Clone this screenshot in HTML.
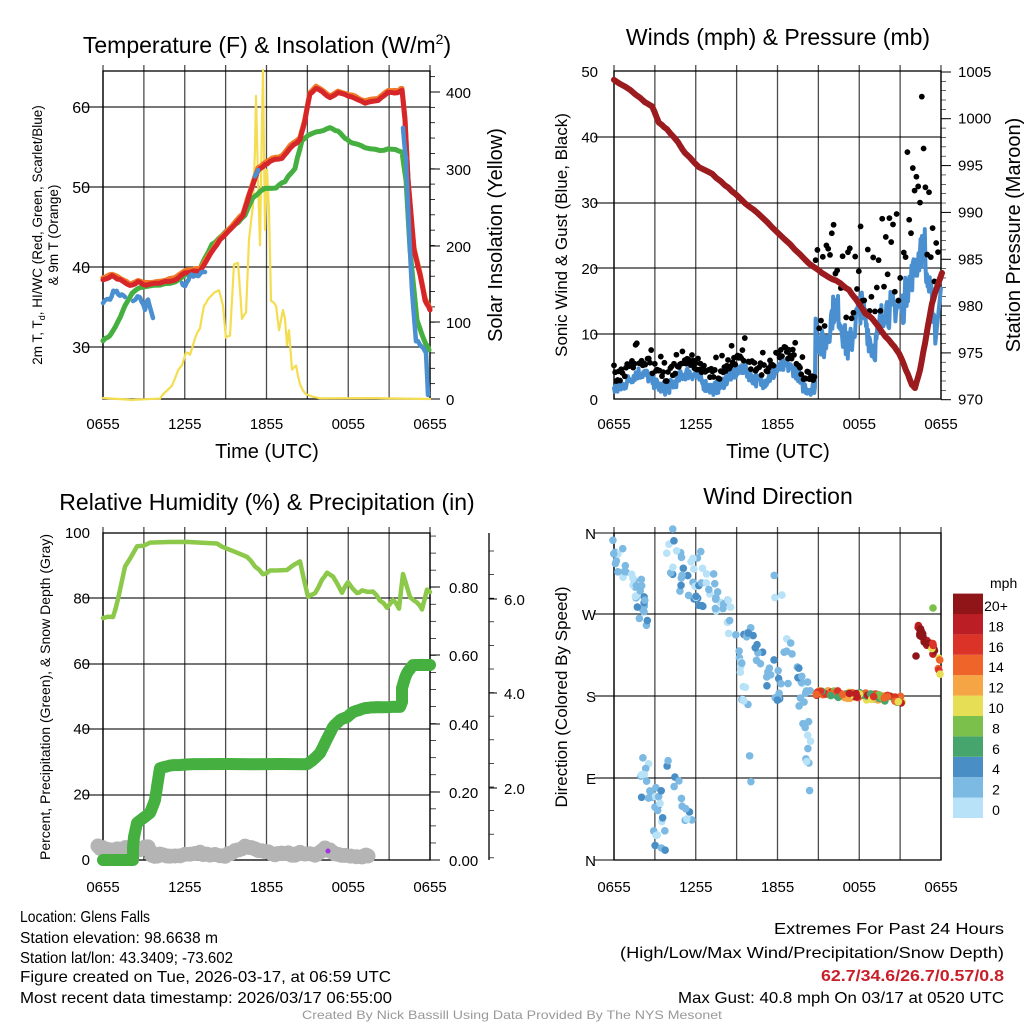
<!DOCTYPE html>
<html><head><meta charset="utf-8"><style>
html,body{margin:0;padding:0;background:#fff;}
svg{display:block;font-family:"Liberation Sans",Arial,sans-serif;}
</style></head><body>
<svg id="s" width="1024" height="1024" viewBox="0 0 1024 1024" xmlns="http://www.w3.org/2000/svg">
<rect width="1024" height="1024" fill="#fff"/>
<g id="g"></g>
<text x="267" y="53" font-size="23" text-anchor="middle">Temperature (F) &amp; Insolation (W/m<tspan dy="-9" font-size="14">2</tspan><tspan dy="9">)</tspan></text>
<text x="778" y="45" font-size="23" text-anchor="middle">Winds (mph) &amp; Pressure (mb)</text>
<text x="267" y="510" font-size="23" text-anchor="middle">Relative Humidity (%) &amp; Precipitation (in)</text>
<text x="778" y="504" font-size="23" text-anchor="middle">Wind Direction</text>
<text x="267" y="458" font-size="20" text-anchor="middle">Time (UTC)</text>
<text x="778" y="458" font-size="20" text-anchor="middle">Time (UTC)</text>
<text transform="translate(42,235) rotate(-90)" font-size="13.5" text-anchor="middle">2m T, T<tspan font-size="9" dy="3">d</tspan><tspan dy="-3">, HI/WC (Red, Green, Scarlet/Blue)</tspan></text>
<text transform="translate(58,235) rotate(-90)" font-size="13.5" text-anchor="middle">&amp; 9m T (Orange)</text>
<text transform="translate(502,235) rotate(-90)" font-size="20" text-anchor="middle">Solar Insolation (Yellow)</text>
<text transform="translate(567,235) rotate(-90)" font-size="17" text-anchor="middle">Sonic Wind &amp; Gust (Blue, Black)</text>
<text transform="translate(1020,235) rotate(-90)" font-size="20" text-anchor="middle">Station Pressure (Maroon)</text>
<text transform="translate(50,697) rotate(-90)" font-size="14" text-anchor="middle">Percent, Precipitation (Green), &amp; Snow Depth (Gray)</text>
<text transform="translate(567,697) rotate(-90)" font-size="17" text-anchor="middle">Direction (Colored By Speed)</text>
<g font-size="16">
<text x="20" y="922" textLength="130" lengthAdjust="spacingAndGlyphs">Location: Glens Falls</text>
<text x="20" y="943" textLength="198" lengthAdjust="spacingAndGlyphs">Station elevation: 98.6638 m</text>
<text x="20" y="963" textLength="213" lengthAdjust="spacingAndGlyphs">Station lat/lon: 43.3409; -73.602</text>
<text x="20" y="982" textLength="371" lengthAdjust="spacingAndGlyphs">Figure created on Tue, 2026-03-17, at 06:59 UTC</text>
<text x="20" y="1003" textLength="372" lengthAdjust="spacingAndGlyphs">Most recent data timestamp: 2026/03/17 06:55:00</text>
<text x="1004" y="934" text-anchor="end" textLength="230" lengthAdjust="spacingAndGlyphs">Extremes For Past 24 Hours</text>
<text x="1004" y="958" text-anchor="end" textLength="384" lengthAdjust="spacingAndGlyphs">(High/Low/Max Wind/Precipitation/Snow Depth)</text>
<text x="1004" y="981" text-anchor="end" fill="#c8202a" font-weight="bold" textLength="183" lengthAdjust="spacingAndGlyphs">62.7/34.6/26.7/0.57/0.8</text>
<text x="1004" y="1003" text-anchor="end" textLength="326" lengthAdjust="spacingAndGlyphs">Max Gust: 40.8 mph On 03/17 at 0520 UTC</text>
</g>
<text x="512" y="1019" font-size="12" fill="#999" text-anchor="middle" textLength="420" lengthAdjust="spacingAndGlyphs">Created By Nick Bassill Using Data Provided By The NYS Mesonet</text>
</svg>
<script>
var g=document.getElementById('g');var NS='http://www.w3.org/2000/svg';
function el(t,a){var e=document.createElementNS(NS,t);for(var k in a)e.setAttribute(k,a[k]);g.appendChild(e);return e;}
function txt(x,y,s,fs,anch){var e=el('text',{x:x,y:y,'font-size':fs,'text-anchor':anch||'middle'});e.textContent=s;}
var seed=7;function R(){seed=(seed*16807)%2147483647;return seed/2147483647;}
function pl(pts,col,w,extra){var a={points:pts.map(p=>p.join(',')).join(' '),fill:'none',stroke:col,'stroke-width':w,'stroke-linejoin':'round','stroke-linecap':'round'};for(var k in extra)a[k]=extra[k];return el('polyline',a);}
function interp(pts,n,noise){var out=[];for(var i=0;i<pts.length-1;i++){var a=pts[i],b=pts[i+1];for(var j=0;j<n;j++){var t=j/n;out.push([a[0]+(b[0]-a[0])*t,a[1]+(b[1]-a[1])*t+(R()-0.5)*noise]);}}out.push(pts[pts.length-1]);return out;}
function frame(x0,x1,y0,y1,hy,vx){
 vx.forEach(x=>el('line',{x1:x,x2:x,y1:y0-6,y2:y1,stroke:'#000','stroke-width':1.3,'stroke-opacity':0.7}));
 hy.forEach(y=>el('line',{x1:x0-20,x2:x1,y1:y,y2:y,stroke:'#000','stroke-width':1.2,'stroke-opacity':0.85}));
 el('rect',{x:x0,y:y0,width:x1-x0,height:y1-y0,fill:'none',stroke:'#000','stroke-width':1.3});
}
var VX1=[],VX2=[];for(var i=0;i<9;i++){VX1.push(103+i*40.875);VX2.push(614+i*40.875);}
var labs=['0655','1255','1855','0055','0655'];
frame(103,430,71,399,[107,187,267,347],VX1);
[60,50,40,30].forEach((v,i)=>txt(90,113+i*80,v,16,'end'));
[[400,92],[300,169],[200,246],[100,322],[0,399]].forEach(p=>{txt(446,p[1]+6,p[0],15,'start');el('line',{x1:430,x2:440,y1:p[1],y2:p[1],stroke:'#000'});});
for(var v=0;v<=420;v+=20){var y=399-v*0.7675;el('line',{x1:430,x2:435,y1:y,y2:y,stroke:'#000','stroke-width':0.8});}
for(var i=0;i<5;i++){txt(VX1[i*2],429,labs[i],15);txt(VX2[i*2],429,labs[i],15);}
pl(interp([[103,399],[160,399],[165,392],[172,386],[178,370],[182,365],[186,352],[190,355],[195,338],[200,328],[204,305],[208,300],[214,292],[219,290],[223,305],[226,338],[230,335],[234,265],[238,263],[242,318],[246,312],[249,240],[253,205],[255,150],[256,95],[258,180],[260,245],[262,120],[263,70],[265,230],[267,170],[269,210],[271,300],[276,305],[279,330],[283,310],[285,318],[287,345],[289,330],[292,370],[296,365],[300,385],[306,395],[320,399],[430,399]],2,2),'#f5dd50',2.2);
var green=[[103,340],[110,336],[118,322],[125,305],[132,293],[140,288],[160,285],[175,282],[190,272],[200,268],[212,245],[222,235],[235,225],[245,215],[253,198],[265,188],[276,188],[285,181],[295,168],[302,140],[308,135],[320,131],[330,128],[338,131],[345,138],[352,143],[365,147],[380,150],[392,149],[402,152],[406,180],[410,250],[417,320],[424,340],[429,350]];
pl(interp(green,3,1.5),'#45b040',5);
var red=[[103,280],[112,276],[120,280],[130,286],[138,282],[146,285],[160,283],[175,280],[185,273],[193,271],[200,271],[210,255],[220,240],[232,228],[243,215],[250,193],[258,170],[265,165],[272,160],[282,158],[290,148],[300,140],[305,120],[310,94],[316,88],[322,92],[330,98],[338,93],[345,95],[355,98],[365,103],[378,100],[388,92],[398,93],[402,90],[405,120],[408,180],[414,250],[420,275],[425,300],[430,310]];
pl(interp(red.map(p=>[p[0],p[1]-2]),3,1.2),'#f07a28',5);
pl(interp(red,3,1.2),'#d7262a',5);
function blue(pts){pl(interp(pts,3,4),'#4a90d0',4.5);}
blue([[103,302],[110,298],[115,290],[120,296],[125,297]]);
blue([[133,300],[140,296],[145,310],[148,298],[153,318]]);
blue([[182,283],[185,285],[190,275],[195,276],[205,272]]);
blue([[255,175],[258,170]]);
blue([[403,128],[406,160],[409,230],[412,290],[416,340],[422,347],[426,352],[428,395]]);
frame(614,941,71,399,[137,203,268,334],VX2);
[50,40,30,20,10,0].forEach((v,i)=>txt(598,77+i*65.6,v,15,'end'));
[[1005,72],[1000,118.7],[995,165.6],[990,212.4],[985,259.3],[980,306],[975,352.9],[970,399.7]].forEach(p=>{txt(958,p[1]+5,p[0],15,'start');el('line',{x1:941,x2:951,y1:p[1],y2:p[1],stroke:'#000'});});
for(var v=0;v<=35;v++){var y=399.7-v*9.365;el('line',{x1:941,x2:946,y1:y,y2:y,stroke:'#000','stroke-width':0.6});}
var bw=[];
function wv(x){var b;if(x<815)b=2.8+Math.sin(x*0.13)*1.2+(x>740&&x<800?1:0);else if(x<890)b=11+Math.sin(x*0.25)*3;else if(x<905)b=14;else if(x<925)b=16+(x-905)*0.4;else b=20-(x-925)*0.8;return b;}
for(var x=614;x<=941;x+=0.7){var v=wv(x)+(R()-0.5)*(x<815?2:5);if(x>935)v=8+(x-935)*1.5;v=Math.max(0.3,v);bw.push([x,399-v*6.56]);}
pl(bw,'#4a90d0',4);
for(var x=614;x<=941;x+=(x<815?1.2:1.8)){var v=wv(x)+1+R()*(x<815?2:14);if(x<815&&R()<0.1)v+=2;if(x>905&&x<925)v+=R()*10;if(R()<0.1)continue;el('circle',{cx:x,cy:399-v*6.56,r:2.9,fill:'#000'});}
pl(interp([[614,80],[630,90],[645,102],[652,106],[659,123],[667,129],[678,142],[685,153],[699,167],[712,174],[725,185],[735,194],[745,203],[758,213],[772,227],[790,244],[805,260],[818,270],[829,277],[840,283],[849,290],[858,302],[865,313],[872,318],[882,332],[892,344],[899,353],[906,370],[912,385],[915,388],[920,370],[925,343],[929,320],[932,303],[936,290],[942,273]],3,1),'#9b1b1f',6);
frame(103,430,533,860,[598,664,729,795],VX1);
[100,80,60,40,20,0].forEach((v,i)=>txt(90,538+i*65.4,v,15,'end'));
[[0.80,587],[0.60,655],[0.40,724],[0.20,792],[0.00,860]].forEach(p=>{txt(449,p[1]+6,p[0].toFixed(2),15,'start');el('line',{x1:430,x2:440,y1:p[1],y2:p[1],stroke:'#000'});});
for(var v=0;v<=0.96;v+=0.05){var y=860-v*341;el('line',{x1:430,x2:436,y1:y,y2:y,stroke:'#000','stroke-width':0.7});}
el('line',{x1:489,x2:489,y1:533,y2:860,stroke:'#000','stroke-width':1.3});
[[6.0,599],[4.0,693],[2.0,788]].forEach(p=>{txt(504,p[1]+6,p[0].toFixed(1),15,'start');el('line',{x1:489,x2:497,y1:p[1],y2:p[1],stroke:'#000'});});
for(var y=551;y<860;y+=23.6)el('line',{x1:489,x2:494,y1:y,y2:y,stroke:'#000','stroke-width':0.7});
for(var i=0;i<5;i++){txt(VX1[i*2],892,labs[i],15);txt(VX2[i*2],892,labs[i],15);}
var gp=[[98,847],[105,849],[112,849],[120,850],[128,847],[140,849],[148,846],[152,856],[160,855],[170,856],[185,855],[200,853],[210,855],[225,856],[235,851],[245,847],[255,849],[265,851],[275,854],[285,853],[295,855],[300,852],[315,856],[325,849],[330,851],[335,853],[345,856],[362,856],[368,856]];
interp(gp,3,2).forEach(p=>el('circle',{cx:p[0],cy:p[1],r:7.5,fill:'#b4b4b4'}));
el('circle',{cx:328,cy:851,r:2.5,fill:'#a030e0'});
var pp=[[103,860],[133,860],[133,847],[134,837],[137,823],[150,813],[155,800],[157,787],[160,768],[173,765],[200,764],[307,764],[313,760],[320,753],[333,727],[340,720],[347,717],[353,712],[365,708],[377,707],[400,707],[402,702],[402,688],[405,678],[407,673],[413,665],[430,665]];
pl(interp(pp,4,0.5),'#45b040',12);
pl(interp([[103,618],[113,617],[118,600],[125,567],[137,547],[150,543],[187,541],[217,543],[227,549],[247,557],[255,566],[263,575],[270,570],[287,570],[300,562],[308,597],[315,593],[322,580],[327,573],[333,577],[342,592],[348,582],[357,593],[362,590],[373,592],[380,600],[387,607],[393,600],[399,608],[403,573],[410,597],[417,602],[422,610],[427,590],[430,592]],2,2),'#8cc84a',4.5);
frame(614,941,533,860,[614,696,778],VX2);
el('line',{x1:594,x2:614,y1:533,y2:533,stroke:'#000'});el('line',{x1:594,x2:614,y1:860,y2:860,stroke:'#000'});
[['N',533],['W',614],['S',696],['E',778],['N',860]].forEach(p=>txt(596,p[1]+6,p[0],15,'end'));
var cols=['#b7e2f7','#7cb9e3','#4a8ec6','#46a56c','#7bc04a','#e6df55','#f5a543','#ef6428','#dc3328','#bb1e25','#8f1519'];
for(var i=0;i<11;i++)el('rect',{x:953,y:818-(i+1)*20.4,width:30,height:20.4,fill:cols[i]});
txt(990,588,'mph',14,'start');
['0','2','4','6','8','10','12','14','16','18','20+'].forEach((s,i)=>txt(996,813-i*20.4+2,s,14,'middle'));
function sc(x0,x1,y0,y1,n,ci,spread,xs){for(var i=0;i<n;i++){var t=R();var x=x0+(x1-x0)*t+(R()-0.5)*(xs||0);var y=y0+(y1-y0)*t+(R()-0.5)*spread;var c=ci[Math.floor(R()*ci.length)];el('circle',{cx:x,cy:y,r:3.8,fill:cols[c]});}}
sc(614,645,548,610,30,[1,1,1,2,0],25,10);
sc(640,648,580,625,6,[1,1,2],20);
sc(645,668,770,850,30,[0,1,1,2],50,20);
sc(665,695,770,830,12,[0,1,1,2],25,10);
sc(660,705,540,600,30,[1,1,2,0],40,15);
sc(695,740,560,630,25,[0,1,1,0],30,10);
sc(740,752,650,785,14,[1,1,0],10,6);
sc(745,785,620,700,28,[1,2,2,1],30,15);
sc(780,805,585,700,20,[1,0,1,2],40,15);
sc(803,812,690,790,12,[1,1,0],10,8);
sc(815,905,692,700,90,[3,4,5,6,7,8,6,7,9],7);
sc(918,935,628,655,22,[10,10,9,10],10);
sc(930,941,640,670,8,[5,4,7,8],15);
el('circle',{cx:933,cy:608,r:3.8,fill:cols[4]});el('circle',{cx:916,cy:656,r:3.8,fill:cols[10]});
</script>
</body></html>
